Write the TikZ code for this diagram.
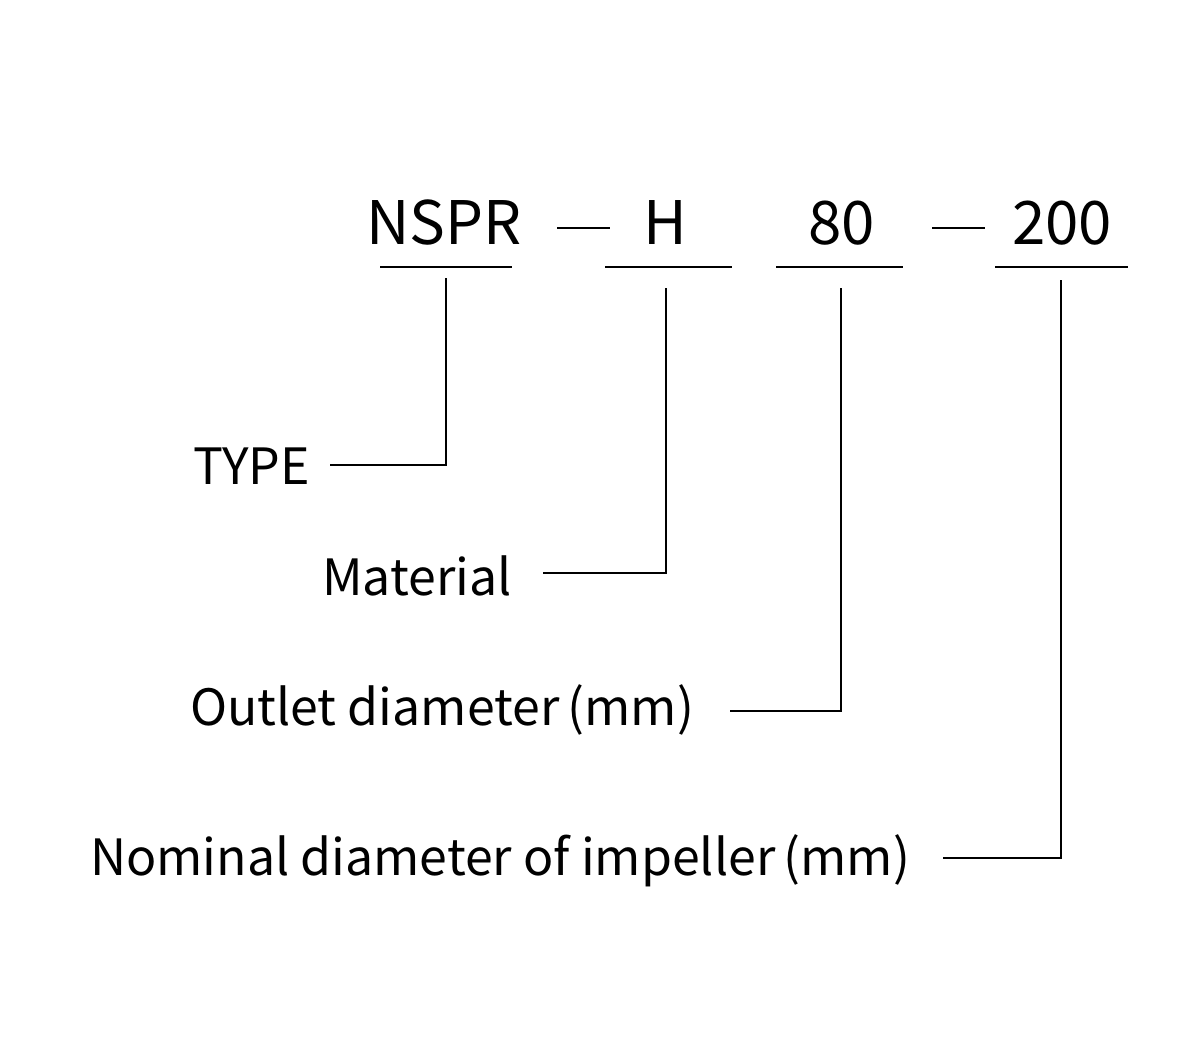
\documentclass[tikz,border=0pt]{standalone}
\usepackage{fontspec}
\setmainfont{Noto Sans CJK SC}
\begin{document}
\begin{tikzpicture}[x=1pt,y=-1pt,
  code/.style={inner sep=0pt, anchor=base west, font=\fontsize{60}{60}\selectfont},
  lab/.style={inner sep=0pt, anchor=base west, font=\fontsize{50}{50}\selectfont},
  link/.style={line width=2.4pt, line join=miter},
  uline/.style={line width=2.4pt}]
\useasboundingbox[fill=white] (0,0) rectangle (1200,1038);
% codes
\node[code] (nspr) at (366,244) {NSPR};
\node[code] (h) at (643,244) {H};
\node[code] (c80) at (808,244) {80};
\node[code] (c200) at (1012,244) {200};
% dashes
\coordinate (d1a) at (557,228); \coordinate (d1b) at (610,228);
\coordinate (d2a) at (932,228); \coordinate (d2b) at (985,228);
\draw[uline] (d1a) -- (d1b);
\draw[uline] (d2a) -- (d2b);
% underlines
\coordinate (u1a) at (380,267); \coordinate (u1b) at (512,267);
\coordinate (u2a) at (605,267); \coordinate (u2b) at (732,267);
\coordinate (u3a) at (776,267); \coordinate (u3b) at (903,267);
\coordinate (u4a) at (995,267); \coordinate (u4b) at (1128,267);
\draw[uline] (u1a) -- (u1b);
\draw[uline] (u2a) -- (u2b);
\draw[uline] (u3a) -- (u3b);
\draw[uline] (u4a) -- (u4b);
% labels
\node[lab] (typ) at (193,484) {TYPE};
\node[lab] (mat) at (322,595) {Material};
\node[lab] (out) at (190,725) {Outlet diameter\,(mm)};
\node[lab] (nom) at (90,875) {Nominal diameter of impeller\,(mm)};
% connector tops
\coordinate (t1) at (446,278);
\coordinate (t2) at (666,288);
\coordinate (t3) at (841,288);
\coordinate (t4) at (1061,280);
% connector bends
\coordinate (b1) at (446,465);
\coordinate (b2) at (666,573);
\coordinate (b3) at (841,711);
\coordinate (b4) at (1061,858);
% label ends
\coordinate (e1) at (330,465);
\coordinate (e2) at (543,573);
\coordinate (e3) at (730,711);
\coordinate (e4) at (943,858);
\draw[link] (t1) -- (b1) -- (e1);
\draw[link] (t2) -- (b2) -- (e2);
\draw[link] (t3) -- (b3) -- (e3);
\draw[link] (t4) -- (b4) -- (e4);
\end{tikzpicture}
\end{document}
